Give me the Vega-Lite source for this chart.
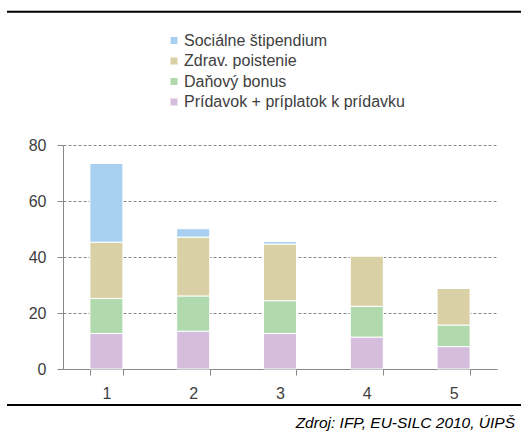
{
  "$schema": "https://vega.github.io/schema/vega-lite/v6.json",
  "autosize": {"type": "none"},
  "padding": {"left": 63, "top": 145, "right": 24, "bottom": 70},
  "width": 434,
  "height": 224,
  "background": "white",
  "config": {
    "font": "Liberation Sans",
    "view": {"stroke": null}
  },
  "title": {
    "text": "Zdroj: IFP, EU-SILC 2010, ÚIPŠ",
    "orient": "bottom",
    "anchor": "end",
    "frame": "bounds",
    "fontStyle": "italic",
    "fontWeight": "normal",
    "fontSize": 15.5,
    "color": "black",
    "offset": 10,
    "dx": -9
  },
  "datasets": {
    "bars": [
      {"q": "1", "k": "Prídavok + príplatok k prídavku", "v": 12.7},
      {"q": "1", "k": "Daňový bonus", "v": 12.5},
      {"q": "1", "k": "Zdrav. poistenie", "v": 20.1},
      {"q": "1", "k": "Sociálne štipendium", "v": 28.1},
      {"q": "2", "k": "Prídavok + príplatok k prídavku", "v": 13.5},
      {"q": "2", "k": "Daňový bonus", "v": 12.6},
      {"q": "2", "k": "Zdrav. poistenie", "v": 21.0},
      {"q": "2", "k": "Sociálne štipendium", "v": 3.0},
      {"q": "3", "k": "Prídavok + príplatok k prídavku", "v": 12.7},
      {"q": "3", "k": "Daňový bonus", "v": 11.7},
      {"q": "3", "k": "Zdrav. poistenie", "v": 20.2},
      {"q": "3", "k": "Sociálne štipendium", "v": 0.9},
      {"q": "4", "k": "Prídavok + príplatok k prídavku", "v": 11.4},
      {"q": "4", "k": "Daňový bonus", "v": 11.0},
      {"q": "4", "k": "Zdrav. poistenie", "v": 18.0},
      {"q": "4", "k": "Sociálne štipendium", "v": 0},
      {"q": "5", "k": "Prídavok + príplatok k prídavku", "v": 8.0},
      {"q": "5", "k": "Daňový bonus", "v": 7.7},
      {"q": "5", "k": "Zdrav. poistenie", "v": 13.1},
      {"q": "5", "k": "Sociálne štipendium", "v": 0}
    ],
    "frame": [
      {"edge": "top", "y": 127.6, "x1": -0.129, "x2": 1.06},
      {"edge": "bottom", "y": -12.86, "x1": -0.129, "x2": 1.06}
    ]
  },
  "layer": [
    {
      "data": {"name": "bars"},
      "transform": [
        {"window": [{"op": "row_number", "as": "stackpos"}], "groupby": ["q"]}
      ],
      "mark": {"type": "bar", "stroke": "white", "strokeWidth": 1},
      "encoding": {
        "x": {
          "field": "q", "type": "nominal",
          "scale": {"paddingInner": 0.62, "paddingOuter": 0.31},
          "axis": {
            "title": null, "labelAngle": 0, "labelFontSize": 16, "labelColor": "#404040",
            "domainColor": "#888888", "tickColor": "#888888", "tickSize": 6,
            "tickBand": "extent", "labelPadding": 10, "grid": false
          }
        },
        "y": {
          "field": "v", "type": "quantitative", "stack": "zero",
          "scale": {"domain": [0, 80], "nice": false},
          "axis": {
            "title": null, "values": [0, 20, 40, 60, 80], "labelFontSize": 16, "labelColor": "#404040",
            "domainColor": "#888888", "tickColor": "#888888", "tickSize": 6, "labelPadding": 11,
            "grid": true, "gridColor": "#666666", "gridDash": [3, 2], "gridWidth": 0.8
          }
        },
        "color": {
          "field": "k", "type": "nominal",
          "sort": ["Sociálne štipendium", "Zdrav. poistenie", "Daňový bonus", "Prídavok + príplatok k prídavku"],
          "scale": {
            "range": ["#a9d0f0", "#d9d1a5", "#b1d9ae", "#d4bddd"]
          },
          "legend": {
            "title": null, "orient": "none", "legendX": 103, "legendY": -112.5,
            "symbolType": "square", "symbolSize": 49, "symbolStrokeWidth": 0,
            "labelFontSize": 16, "labelColor": "#404040", "rowPadding": 4.5, "labelOffset": 2, "labelLimit": 400
          }
        },
        "order": {"field": "stackpos", "type": "quantitative", "sort": "ascending"}
      }
    },
    {
      "data": {"name": "frame"},
      "mark": {"type": "rule", "color": "black", "strokeWidth": 2},
      "encoding": {
        "y": {"field": "y", "type": "quantitative"},
        "x": {"field": "x1", "type": "quantitative", "scale": {"domain": [0, 1], "nice": false, "zero": false}, "axis": null},
        "x2": {"field": "x2"}
      }
    }
  ],
  "resolve": {"scale": {"x": "independent"}, "axis": {"x": "independent"}}
}
